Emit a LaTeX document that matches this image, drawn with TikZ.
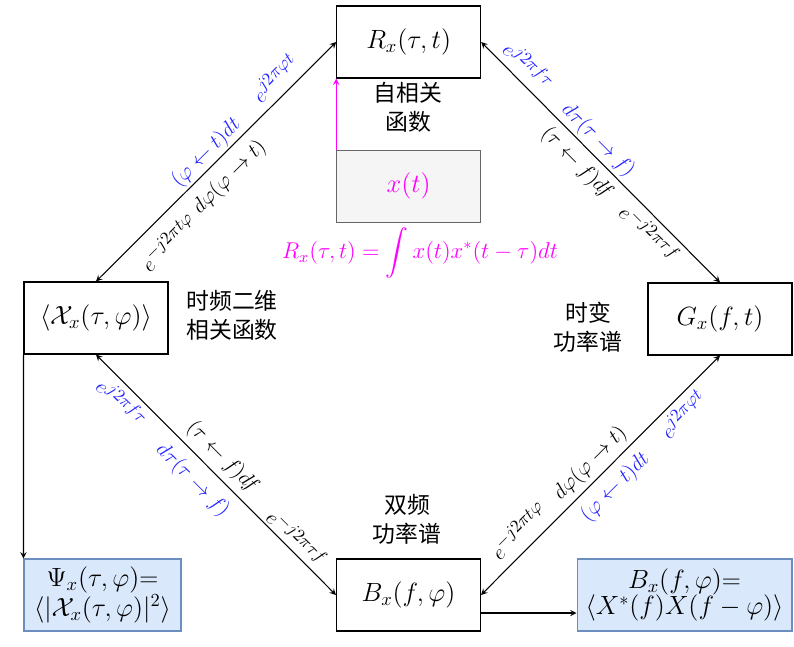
\RequirePackage{fix-cm}
\documentclass[tikz,border=0pt]{standalone}
\usepackage{amsmath,amssymb}
\usepackage{fontspec}
\newfontfamily\cjk{Noto Sans CJK SC}
\usepackage{tikz}
\usetikzlibrary{shapes,arrows,positioning,calc}
\definecolor{fillgray}{HTML}{F5F5F5}
\definecolor{linegray}{HTML}{666666}
\definecolor{fillblue}{HTML}{DAE8FC}
\definecolor{lineblue}{HTML}{6C8EBF}
\definecolor{labelblue}{RGB}{35,35,255}
\definecolor{pinkline}{RGB}{255,0,255}
\newcommand{\expo}[1]{e^{\mbox{\fontsize{10}{10}\selectfont$#1$}}}

\begin{document}
\begin{tikzpicture}[x=0.02cm, y=-0.02cm, >=stealth, line width=0.6pt,
	box/.style={draw, minimum width=2.88cm, minimum height=1.44cm, align=center, font=\fontsize{15}{15}\selectfont},
	graybox/.style={fill=fillgray, draw=linegray},
	bluebox/.style={fill=fillblue, draw=lineblue},
	zh/.style={align=center, font=\cjk\fontsize{13}{16.5}\selectfont},
	elbl/.style={sloped, inner sep=0pt, font=\fontsize{12}{14}\selectfont},
	lift/.style={yshift=#1*0.02cm},
	bl/.style={text=labelblue}]
	\useasboundingbox (0,0) rectangle (794,646);
	\node[box] (Rx) at (408.7,42) {$R_x(\tau,t)$};
	\node[box, graybox, text=pinkline] (xt) at (408.7,186.4) {$x(t)$};
	\node[box] (Xc) at (96,318) {$\langle\mathcal{X}_x(\tau,\varphi)\rangle$};
	\node[box] (Gx) at (720,319) {$G_x(f,t)$};
	\node[box] (Bx) at (408.5,595) {$B_x(f,\varphi)$};
	\node[box, bluebox, minimum width=3.14cm] (Psi) at (102.5,595) {$\Psi_x(\tau,\varphi)$=\\$\langle|\mathcal{X}_x(\tau,\varphi)|^2\rangle$};
	\node[box, bluebox, minimum width=4.3cm] (Bxf) at (684.5,595) {$B_x(f,\varphi)$=\\$\langle X^*(f)X(f-\varphi)\rangle$};
	\node[zh] (lblR) at (408,107) {自相关\\函数};
	\node[zh] (lblX) at (232,315) {时频二维\\相关函数};
	\node[zh] (lblG) at (588,327) {时变\\功率谱};
	\node[zh] (lblB) at (407,519) {双频\\功率谱};
	\node[text=pinkline, font=\fontsize{13}{14}\selectfont] (eqR) at (420,253) {$R_x(\tau,t)=\displaystyle\int x(t)x^*(t-\tau)dt$};
	\draw[->, pinkline] (xt.north west) -- (Rx.south west);
	\draw[->] (Xc.south west) -- (Psi.north west);
	\draw[->] ([yshift=-0.36cm]Bx.east) -- ([yshift=-0.36cm]Bxf.west);
	\draw[<->] (Xc.north) -- node[elbl, bl, pos=0.797, lift=18.4] {$\expo{j2\pi\varphi t}$}
		node[elbl, bl, pos=0.498, lift=13] {$(\varphi\leftarrow t)dt$}
		node[elbl, pos=0.496, lift=-20.5] {$d\varphi(\varphi\rightarrow t)$}
		node[elbl, pos=0.233, lift=-22.6] {$\expo{-j2\pi t\varphi}$} (Rx.west);
	\draw[<->] (Rx.east) -- node[elbl, bl, pos=0.148, lift=17.2] {$\expo{j2\pi f\tau}$}
		node[elbl, bl, pos=0.449, lift=13.6] {$d\tau(\tau\rightarrow f)$}
		node[elbl, pos=0.453, lift=-17.5] {$(\tau\leftarrow f)df$}
		node[elbl, pos=0.751, lift=-15.3] {$\expo{-j2\pi\tau f}$} (Gx.north);
	\draw[<->] (Xc.south) -- node[elbl, bl, pos=0.154, lift=-15.6] {$\expo{j2\pi f\tau}$}
		node[elbl, pos=0.477, lift=17] {$(\tau\leftarrow f)df$}
		node[elbl, bl, pos=0.463, lift=-20.5] {$d\tau(\tau\rightarrow f)$}
		node[elbl, pos=0.8, lift=12.7] {$\expo{-j2\pi\tau f}$} (Bx.west);
	\draw[<->] (Bx.east) -- node[elbl, pos=0.213, lift=19.8] {$\expo{-j2\pi t\varphi}$}
		node[elbl, pos=0.504, lift=15.6] {$d\varphi(\varphi\rightarrow t)$}
		node[elbl, bl, pos=0.506, lift=-19.1] {$(\varphi\leftarrow t)dt$}
		node[elbl, bl, pos=0.8, lift=-14.8] {$\expo{j2\pi\varphi t}$} (Gx.south);
\end{tikzpicture}
\end{document}
